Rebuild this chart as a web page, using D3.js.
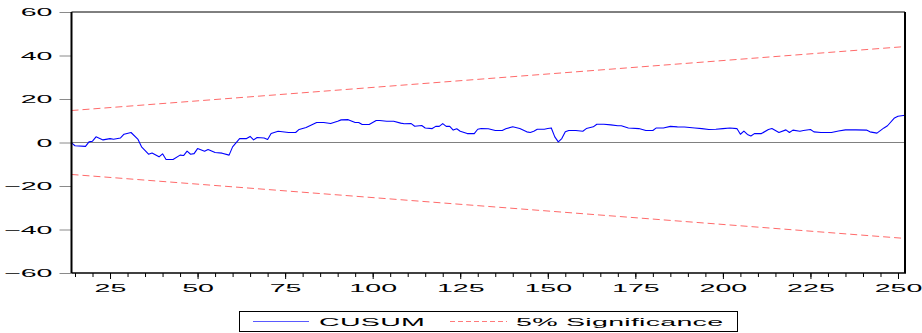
<!DOCTYPE html>
<html>
<head>
<meta charset="utf-8">
<script src="https://cdn.jsdelivr.net/npm/d3@7"></script>
<style>
  html, body { margin: 0; padding: 0; background: #fff; }
  svg { display: block; }
  text { font-family: "Liberation Sans", Arial, sans-serif; font-size: 10.5px; fill: #000; }
</style>
</head>
<body>
<svg id="chart" width="922" height="333"></svg>
<script>
// Recursive residual CUSUM statistic by observation
const obs = [14, 15, 18, 19, 20, 21, 23, 25, 26, 28, 29, 31, 33, 34, 36, 37, 39, 40, 41, 43,
  45, 46, 47, 48, 49, 50, 52, 53, 55, 57, 59, 60, 62, 64, 65, 66, 67, 69, 70, 71,
  73, 76, 78, 79, 81, 84, 86, 88, 90, 91, 93, 95, 96, 97, 99, 101, 102, 104, 106, 108,
  109, 111, 112, 114, 115, 117, 118, 119, 120, 121, 122, 123, 124, 125, 127, 129, 130, 131, 133, 135,
  137, 138, 140, 142, 144, 145, 146, 147, 149, 150, 151, 152, 153, 154, 155, 156, 158, 160, 161, 163,
  164, 166, 168, 170, 171, 173, 176, 178, 180, 181, 183, 185, 187, 189, 192, 194, 196, 198, 200, 202,
  204, 205, 206, 207, 208, 209, 211, 213, 214, 216, 218, 219, 220, 222, 223, 225, 226, 228, 231, 233,
  235, 238, 241, 242, 244, 246, 247, 249, 250, 252];
const cusum = [-0.2, -1.5, -1.8, 0.3, 0.6, 2.6, 1.2, 1.8, 1.5, 2.1, 3.8, 4.6, 1.4, -2.0, -5.4, -4.8, -6.6, -5.2, -7.8, -7.8,
  -5.8, -6.0, -4.0, -5.4, -5.1, -2.8, -4.0, -3.2, -4.6, -4.9, -5.8, -2.0, 1.8, 1.8, 2.8, 1.2, 2.3, 2.1, 1.4, 4.1,
  5.2, 4.6, 4.6, 6.0, 6.9, 9.2, 9.2, 8.7, 9.8, 10.4, 10.5, 9.2, 9.2, 8.3, 8.3, 10.1, 10.1, 9.8, 9.8, 8.9,
  8.6, 8.7, 7.5, 7.8, 6.7, 6.4, 7.4, 7.4, 8.7, 7.4, 7.4, 5.7, 6.3, 5.2, 4.1, 4.1, 6.1, 6.4, 6.3, 5.5,
  5.5, 6.3, 7.2, 6.4, 4.9, 4.6, 5.2, 6.1, 6.1, 6.4, 6.7, 2.6, 0.3, 1.8, 4.9, 5.5, 5.5, 5.2, 6.4, 7.2,
  8.4, 8.4, 8.1, 7.7, 7.7, 6.7, 6.4, 5.5, 5.5, 6.7, 6.7, 7.4, 7.2, 7.1, 6.7, 6.4, 6.0, 6.1, 6.4, 6.7,
  6.4, 3.8, 5.2, 3.7, 3.0, 4.1, 4.1, 6.0, 6.4, 4.6, 5.8, 4.6, 5.7, 5.2, 5.5, 6.0, 4.9, 4.6, 4.6, 5.3,
  5.8, 5.8, 5.7, 4.9, 4.3, 6.7, 7.7, 11.3, 12.1, 12.5];

// 5% significance bounds (straight lines between first and last observation)
const sigObs = [14, 252];
const sigUpper = [14.7, 44.1];
const sigLower = [-14.7, -44.1];

const yTicks = [-60, -40, -20, 0, 20, 40, 60];
const xMajorTicks = [25, 50, 75, 100, 125, 150, 175, 200, 225, 250];
const xMinorTicks = d3.range(15, 251, 5);
const legendLabels = ["CUSUM", "5% Significance"];

const SX = 2.6; // horizontal stretch of the lettering
const FONT = "'Liberation Sans', Arial, sans-serif";

const svg = d3.select("#chart");
const plotL = 71.5, plotR = 905, plotT = 12, plotB = 273;

const x = d3.scaleLinear().domain([14, 252]).range([plotL, plotR]);
const y = d3.scaleLinear().domain([-60, 60]).range([plotB, plotT]);

// zero reference line
svg.append("line")
  .attr("x1", plotL).attr("x2", plotR)
  .attr("y1", y(0)).attr("y2", y(0))
  .attr("stroke", "#808080").attr("stroke-width", 1);

// significance bounds
const bound = d3.line().x(d => x(d[0])).y(d => y(d[1]));
[sigUpper, sigLower].forEach(b => {
  svg.append("path")
    .datum(sigObs.map((o, i) => [o, b[i]]))
    .attr("d", bound)
    .attr("fill", "none")
    .attr("stroke", "#ff6a6a")
    .attr("stroke-width", 1)
    .attr("stroke-dasharray", "7,4");
});

// CUSUM path
svg.append("path")
  .datum(obs.map((o, i) => [o, cusum[i]]))
  .attr("d", d3.line().x(d => x(d[0])).y(d => y(d[1])))
  .attr("fill", "none")
  .attr("stroke", "#0000ff")
  .attr("stroke-width", 1.1)
  .attr("stroke-linejoin", "round");

// y axis: grey ticks, stretched labels
const yAxis = svg.append("g")
  .attr("transform", `translate(${plotL},0)`)
  .call(d3.axisLeft(y).tickValues(yTicks).tickSize(12).tickPadding(0).tickFormat(d3.format("d")));
yAxis.select(".domain").remove();
yAxis.selectAll(".tick line").attr("stroke", "#8a8a8a");
yAxis.selectAll(".tick text")
  .attr("x", 0).attr("dy", "0.36em")
  .attr("transform", `translate(-19,0) scale(${SX},1)`)
  .style("font-size", "11px").style("font-family", FONT);

// x axis: minor and major ticks
const xMinor = svg.append("g")
  .attr("transform", `translate(0,${plotB})`)
  .call(d3.axisBottom(x).tickValues(xMinorTicks).tickSize(4).tickFormat(""));
xMinor.select(".domain").remove();
const xAxis = svg.append("g")
  .attr("transform", `translate(0,${plotB})`)
  .call(d3.axisBottom(x).tickValues(xMajorTicks).tickSize(6).tickPadding(0).tickFormat(d3.format("d")));
xAxis.select(".domain").remove();
xAxis.selectAll(".tick text")
  .attr("y", 0).attr("dy", 0)
  .attr("transform", `translate(0,18.5) scale(${SX},1)`)
  .style("font-size", "11px").style("font-family", FONT);

// frame
svg.append("line").attr("x1", plotL).attr("x2", plotR).attr("y1", plotT).attr("y2", plotT)
  .attr("stroke", "#000").attr("stroke-width", 1);
svg.append("line").attr("x1", plotL).attr("x2", plotR + 1).attr("y1", plotB).attr("y2", plotB)
  .attr("stroke", "#000").attr("stroke-width", 1.6);
svg.append("line").attr("x1", plotL).attr("x2", plotL).attr("y1", plotT).attr("y2", plotB)
  .attr("stroke", "#000").attr("stroke-width", 2);
svg.append("line").attr("x1", plotR).attr("x2", plotR).attr("y1", plotT).attr("y2", plotB)
  .attr("stroke", "#000").attr("stroke-width", 2);

// legend
const lg = svg.append("g");
lg.append("rect").attr("x", 239.5).attr("y", 311.5).attr("width", 498).attr("height", 20)
  .attr("fill", "#fff").attr("stroke", "#000").attr("stroke-width", 1);
lg.append("line").attr("x1", 253).attr("x2", 309).attr("y1", 321.5).attr("y2", 321.5)
  .attr("stroke", "#5a5aff").attr("stroke-width", 1);
lg.append("line").attr("x1", 450).attr("x2", 507).attr("y1", 321.5).attr("y2", 321.5)
  .attr("stroke", "#ff7a7a").attr("stroke-width", 1).attr("stroke-dasharray", "5,3");
[[319, legendLabels[0]], [516, legendLabels[1]]].forEach(([lx, t]) => {
  lg.append("g").attr("transform", `translate(${lx},326) scale(${SX},1)`)
    .append("text").attr("text-anchor", "start")
    .style("font-size", "11px").style("letter-spacing", "0.1px")
    .text(t);
});
</script>
</body>
</html>
